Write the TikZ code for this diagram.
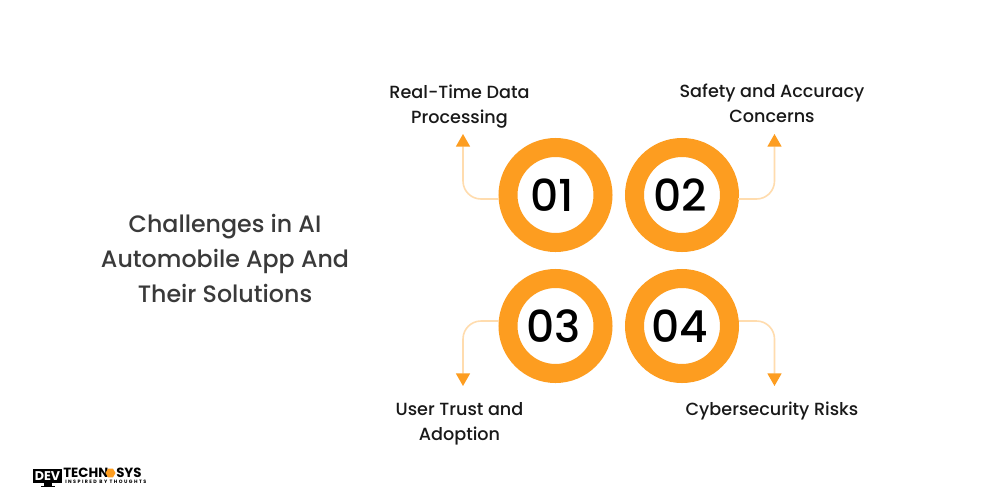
\documentclass[tikz,border=0pt]{standalone}
\usepackage{fontspec}
\setmainfont{Poppins}
\newfontfamily\pmed{Poppins Medium}
\usetikzlibrary{arrows.meta,shapes.geometric}
\definecolor{ringor}{HTML}{FD9D20}
\definecolor{connor}{HTML}{FFDCAE}
\definecolor{titlegray}{HTML}{3A3A3A}
\newcommand{\ringnum}[2]{\raisebox{-1pt}{\kern#1pt #2}}
\tikzset{
 ring/.style={circle,draw=ringor,line width=14.25pt,minimum size=71.25pt,inner sep=0pt,fill=white,text=black,font=\pmed\fontsize{33}{33}\selectfont},
 conn/.style={draw=connor,line width=1.2pt,-{Triangle[color=ringor,fill=ringor,length=9.5pt,width=10.5pt]}},
 label/.style={align=center,text=black!90!white,font=\pmed\fontsize{13.2}{18.75}\selectfont},
 title/.style={align=center,text=titlegray,font=\pmed\fontsize{17.8}{26.2}\selectfont},
 logo/.style={inner sep=0pt,text=black,font=\fontsize{10}{10}\selectfont\bfseries}
}
\begin{document}
\begin{tikzpicture}[x=0.75pt,y=-0.75pt]
\path[use as bounding box,fill=white] (0,0) rectangle (1000,500);
\node[title] (t) at (225,258.5) {Challenges in AI\\Automobile App And\\Their Solutions};
\node[ring] (r1) at (555.5,195) {\ringnum{-4.5}{01}};
\node[ring] (r2) at (682,195) {\ringnum{-3}{02}};
\node[ring] (r3) at (555.5,326) {\ringnum{-3}{03}};
\node[ring] (r4) at (682,326) {\ringnum{-3}{04}};
\node[label] (l1) at (459.5,106.5) {Real-Time Data\\Processing};
\node[label] (l2) at (772,103) {Safety and Accuracy\\Concerns};
\node[label] (l3) at (459.5,424) {User Trust and\\Adoption};
\node[label] (l4) at (772,411) {Cybersecurity Risks};
\coordinate (s1) at (499,199);
\coordinate (s2) at (738,199);
\coordinate (s3) at (499,321);
\coordinate (s4) at (739,321);
\coordinate (e1) at (463,134);
\coordinate (e2) at (774.5,134);
\coordinate (e3) at (463,386);
\coordinate (e4) at (774.5,386);
\draw[conn,rounded corners=13.5pt] (s1) -- (s1 -| e1) -- (e1);
\draw[conn,rounded corners=13.5pt] (s2) -- (s2 -| e2) -- (e2);
\draw[conn,rounded corners=13.5pt] (s3) -- (s3 -| e3) -- (e3);
\draw[conn,rounded corners=13.5pt] (s4) -- (s4 -| e4) -- (e4);
% logo
\node[fill=black,text=white,minimum width=21.75pt,minimum height=10.5pt,inner sep=0pt,font=\fontsize{9.5}{10}\selectfont\bfseries] (d) at (47.5,476) {DEV};
\fill[black] (44,483) rectangle (52,486);
\fill[black] (41,486) rectangle (55,487.2);
\node[logo,anchor=west] (k1) at (63,472.5) {TECHN};
\node[regular polygon,regular polygon sides=6,fill=ringor,minimum size=7.5pt,inner sep=0pt] (k2) at (110.5,473) {};
\node[logo,anchor=west] (k3) at (116,472.5) {SYS};
\node[anchor=west,inner sep=0pt,text=black,font=\fontsize{3.6}{3.8}\selectfont\bfseries\addfontfeatures{LetterSpace=30}] (k4) at (65,481.5) {INSPIRED BY THOUGHTS};
\end{tikzpicture}
\end{document}
